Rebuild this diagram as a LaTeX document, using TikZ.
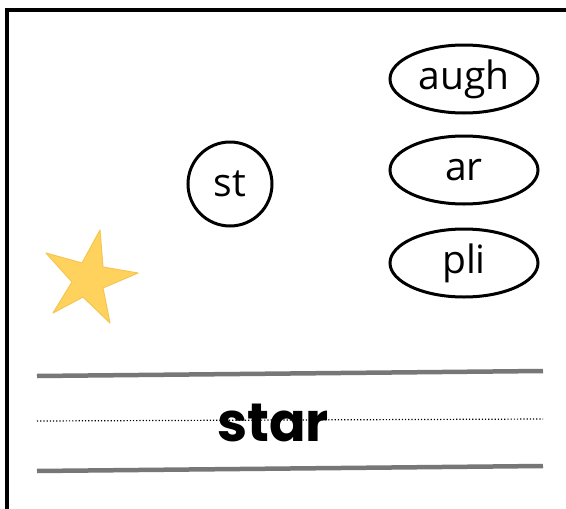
\documentclass[tikz,border=0pt]{standalone}
\usepackage{fontspec}
\setmainfont{Poppins}
\newfontfamily\chunkfont{Open Sans}
\usetikzlibrary{shapes.geometric}
\definecolor{rulegrey}{HTML}{777777}
\definecolor{staryellow}{HTML}{FFD25E}
\definecolor{staredge}{HTML}{F6C550}

\begin{document}
\begin{tikzpicture}[x=1pt,y=-1pt,
    chunk/.style={draw,ellipse,line width=3pt,minimum width=148pt,minimum height=68pt,inner sep=0pt,font=\chunkfont\fontsize{39}{42}\selectfont},
    onset/.style={draw,circle,line width=3pt,minimum size=84pt,inner sep=0pt,font=\chunkfont\fontsize{39}{42}\selectfont},
    writeline/.style={rulegrey,line width=4.5pt}]

    \useasboundingbox (0,0) rectangle (566,509);
    \fill[white] (0,0) rectangle (566,509);

    % frame
    \draw[line width=4pt] (7,509) -- (7,10) -- (566,10);

    % star picture
    \filldraw[fill=staryellow,draw=staredge,line width=1pt,line join=round]
      (100,230) -- (103,267) -- (138,273) -- (103,288) -- (110,323)
      -- (83,297) -- (53,313) -- (72,282) -- (46,253) -- (82,263) -- cycle;

    % sound chunks
    \node[onset] (st) at (230,184) {st};
    \node[chunk] (augh) at (464,79) {augh};
    \node[chunk] (ar) at (464,170) {ar};
    \node[chunk] (pli) at (464,263) {pli};

    % writing lines
    \coordinate (topL) at (37,376);   \coordinate (topR) at (543,371);
    \coordinate (midL) at (37,421);   \coordinate (midR) at (543,419);
    \coordinate (botL) at (37,471);   \coordinate (botR) at (543,466);
    \draw[writeline] (topL) -- (topR);
    \draw[writeline] (botL) -- (botR);
    \draw[line width=1.2pt,dotted] (midL) -- (midR);

    \node[anchor=base,font=\fontsize{54}{60}\selectfont\bfseries,inner sep=0pt] (word) at (273,441) {star};

\end{tikzpicture}
\end{document}
